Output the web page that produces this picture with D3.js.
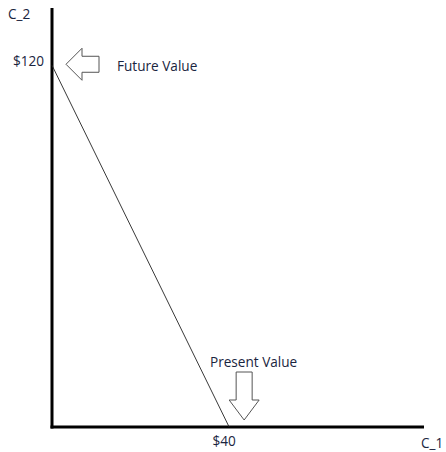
<!DOCTYPE html>
<html>
<head>
<meta charset="utf-8">
<script src="https://cdn.jsdelivr.net/npm/d3@7"></script>
<style>
  html, body { margin: 0; padding: 0; background: #fff; }
  svg { display: block; }
  text { font-family: "Open Sans", "Noto Sans", sans-serif; fill: #1a2540; font-size: 13.6px; }
</style>
</head>
<body>
<svg id="chart" width="446" height="452"></svg>
<script>
// Budget line data
const c1Values = [0, 40];
const c2Values = [120, 0];
const xTickValues = [40];
const yTickValues = [120];
const annotations = ["Future Value", "Present Value"];

const svg = d3.select("#chart");

// Scales
const x = d3.scaleLinear().domain([0, 84]).range([52, 424]);
const y = d3.scaleLinear().domain([0, 139]).range([427, 8]);

// Axes drawn as thick black lines
svg.append("line")
  .attr("x1", x(0)).attr("x2", x(0))
  .attr("y1", y(0) + 1.5).attr("y2", y(139))
  .attr("stroke", "black")
  .attr("stroke-width", 3);

svg.append("line")
  .attr("x1", x(0) - 1.5).attr("x2", x(84))
  .attr("y1", y(0)).attr("y2", y(0))
  .attr("stroke", "black")
  .attr("stroke-width", 3);

// Axis titles
svg.append("text")
  .attr("x", 8).attr("y", 19)
  .text("C_2");

svg.append("text")
  .attr("x", 421).attr("y", 448)
  .text("C_1");

// Tick labels
svg.selectAll(".ytick")
  .data(yTickValues)
  .enter()
  .append("text")
  .attr("class", "ytick")
  .attr("x", x(0) - 8)
  .attr("y", d => y(d) + 1)
  .attr("text-anchor", "end")
  .text(d => "$" + d);

svg.selectAll(".xtick")
  .data(xTickValues)
  .enter()
  .append("text")
  .attr("class", "xtick")
  .attr("x", d => x(d) - 5)
  .attr("y", y(0) + 19)
  .attr("text-anchor", "middle")
  .text(d => "$" + d);

// Budget line
const points = c1Values.map((c, i) => [c, c2Values[i]]);
svg.append("path")
  .attr("d", d3.line().x(d => x(d[0])).y(d => y(d[1]))(points))
  .attr("fill", "none")
  .attr("stroke", "#222")
  .attr("stroke-width", 0.9);

// Left-pointing arrow near the future value
const fx = x(0) + 14, fy = y(120) - 1;
const leftArrow = [
  [fx, fy], [fx + 16, fy - 16], [fx + 16, fy - 8], [fx + 33, fy - 8],
  [fx + 33, fy + 8], [fx + 16, fy + 8], [fx + 16, fy + 16]
];
svg.append("polygon")
  .attr("points", leftArrow.map(p => p.join(",")).join(" "))
  .attr("fill", "white")
  .attr("stroke", "#555")
  .attr("stroke-width", 1);

svg.append("text")
  .attr("x", fx + 51).attr("y", fy + 7)
  .text(annotations[0]);

// Down-pointing arrow near the present value
const px = x(40) + 15, py = y(0) - 7;
const downArrow = [
  [px, py], [px - 15, py - 20], [px - 8, py - 20], [px - 8, py - 48],
  [px + 8, py - 48], [px + 8, py - 20], [px + 15, py - 20]
];
svg.append("polygon")
  .attr("points", downArrow.map(p => p.join(",")).join(" "))
  .attr("fill", "white")
  .attr("stroke", "#555")
  .attr("stroke-width", 1);

svg.append("text")
  .attr("x", 210).attr("y", 367)
  .text(annotations[1]);
</script>
</body>
</html>
